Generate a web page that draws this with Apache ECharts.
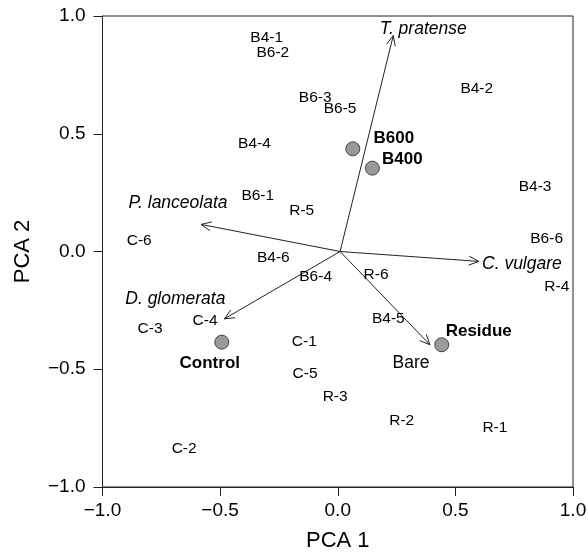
<!DOCTYPE html>
<html>
<head>
<meta charset="utf-8">
<script src="https://cdn.jsdelivr.net/npm/echarts@6/dist/echarts.min.js"></script>
<style>html,body{margin:0;padding:0;background:#fff;}#c{width:588px;height:552px;}</style>
</head>
<body>
<div id="c"></div>
<script>
// Sample labels (text placed at their PCA scores)
const sampleNames = ['B4-1','B6-2','B6-3','B6-5','B4-4','B6-1','R-5','C-6','B4-6','B6-4','C-4','C-3','C-1','C-5','R-3','C-2','R-2','R-1','R-6','B4-5','B4-2','B4-3','B6-6','R-4'];
const sampleX = [-0.302,-0.276,-0.096,0.010,-0.354,-0.340,-0.153,-0.844,-0.274,-0.094,-0.564,-0.798,-0.142,-0.139,-0.011,-0.653,0.272,0.668,0.163,0.215,0.591,0.839,0.888,0.931];
const sampleY = [0.906,0.846,0.653,0.606,0.457,0.238,0.174,0.044,-0.027,-0.109,-0.293,-0.328,-0.385,-0.517,-0.616,-0.838,-0.718,-0.749,-0.098,-0.286,0.691,0.273,0.054,-0.149];

// Treatment centroids
const groupNames = ['B600','B400','Control','Residue'];
const groupX = [0.064,0.147,-0.493,0.442];
const groupY = [0.436,0.354,-0.385,-0.396];

// Species / variable vectors (arrow tips), from origin
const originXY = [0.01, 0.0];
const speciesNames = ['T. pratense','P. lanceolata','C. vulgare','D. glomerata','Bare'];
const speciesX = [0.236,-0.581,0.600,-0.482,0.392];
const speciesY = [0.917,0.115,-0.042,-0.286,-0.396];

// Tick labels
const tickValues = [-1,-0.5,0,0.5,1];
const tickLabels = ['\u22121.0','\u22120.5','0.0','0.5','1.0'];

const FONT = "'Liberation Sans', Arial, Helvetica, sans-serif";
const TXT = '#000';
const LINE = '#222';

// label offsets (pixels) – styling only
const groupLabelOffset = {'B600':[41,-11],'B400':[30,-9],'Control':[-12,21],'Residue':[37,-13]};
const speciesLabelOffset = {'T. pratense':[30,-6],'P. lanceolata':[-23,-21],'C. vulgare':[43,3],'D. glomerata':[-49,-20],'Bare':[-19,18]};

function fmt(v){ const i = tickValues.findIndex(t => Math.abs(t - v) < 1e-9); return i >= 0 ? tickLabels[i] : ''; }

const sampleData = sampleNames.map((n,i) => [sampleX[i], sampleY[i], n]);
const groupData = groupNames.map((n,i) => ({
  value: [groupX[i], groupY[i], n],
  label: { offset: groupLabelOffset[n] }
}));
const arrowData = speciesNames.map((n,i) => [originXY[0], originXY[1], speciesX[i], speciesY[i], n]);

const chart = echarts.init(document.getElementById('c'), null, {renderer:'canvas'});
const axisCommon = {
  type: 'value', min: -1, max: 1, interval: 0.5,
  splitLine: {show:false},
  axisLine: {show:true, onZero:false, lineStyle:{color:LINE, width:1}},
  axisTick: {show:true, inside:false, length:9, lineStyle:{color:LINE, width:1}},
  axisLabel: {formatter: fmt, color: TXT, fontSize: 19, fontFamily: FONT},
  nameLocation: 'middle',
  nameTextStyle: {color: TXT, fontSize: 22, fontFamily: FONT}
};
chart.setOption({
  animation: false,
  backgroundColor: '#fff',
  grid: {left: 102.5, right: 15, top: 16, bottom: 65, containLabel: false, outerBoundsMode: 'none',
         show: true, borderColor: LINE, borderWidth: 1, backgroundColor: 'transparent'},
  xAxis: Object.assign({}, axisCommon, {name: 'PCA 1', nameGap: 43, axisLabel: Object.assign({}, axisCommon.axisLabel, {margin: 14})}),
  yAxis: Object.assign({}, axisCommon, {name: 'PCA 2', nameGap: 69, axisLabel: Object.assign({}, axisCommon.axisLabel, {margin: 17})}),
  series: [
    {
      type: 'custom',
      renderItem: function(params, api){
        const o = api.coord([api.value(0), api.value(1)]);
        const t = api.coord([api.value(2), api.value(3)]);
        const name = speciesNames[params.dataIndex];
        const a = Math.atan2(t[1]-o[1], t[0]-o[0]);
        const L = 11, h = 0.42;
        const p1 = [t[0] - L*Math.cos(a - h), t[1] - L*Math.sin(a - h)];
        const p2 = [t[0] - L*Math.cos(a + h), t[1] - L*Math.sin(a + h)];
        const off = speciesLabelOffset[name] || [0,0];
        return {
          type: 'group',
          children: [
            {type:'line', shape:{x1:o[0], y1:o[1], x2:t[0], y2:t[1]}, style:{stroke:LINE, lineWidth:1}},
            {type:'polyline', shape:{points:[p1, t, p2]}, style:{stroke:LINE, lineWidth:1, fill:null}},
            {type:'text', x: t[0]+off[0], y: t[1]+off[1], style:{text: name, fill: TXT, fontSize: 17.5,
              fontStyle: name === 'Bare' ? 'normal' : 'italic', fontFamily: FONT, align:'center', verticalAlign:'middle'}}
          ]
        };
      },
      data: arrowData,
      z: 3
    },
    {
      type: 'scatter',
      data: sampleData,
      symbolSize: 1,
      itemStyle: {color: 'rgba(0,0,0,0)', opacity: 1},
      label: {show: true, position: 'inside', formatter: p => p.data[2], color: TXT, opacity: 1, fontSize: 15.5, fontFamily: FONT},
      z: 4
    },
    {
      type: 'scatter',
      data: groupData,
      symbolSize: 14,
      itemStyle: {color: '#9a9a9a', borderColor: '#444', borderWidth: 1, opacity: 1},
      label: {show: true, position: 'inside', formatter: p => p.value[2], color: TXT, opacity: 1, fontSize: 17, fontWeight: 'bold', fontFamily: FONT},
      z: 5
    }
  ]
});
</script>
</body>
</html>
